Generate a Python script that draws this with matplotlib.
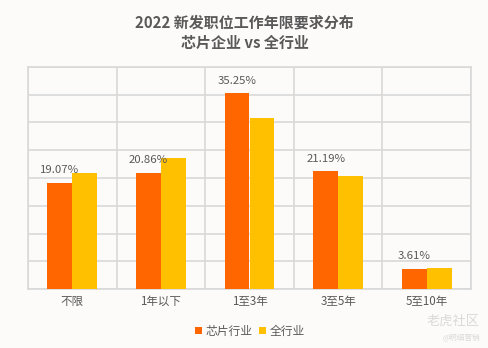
import matplotlib
matplotlib.use('Agg')
import matplotlib.pyplot as plt
import numpy as np

plt.rcParams['font.family'] = ['Noto Sans CJK SC', 'DejaVu Sans']

categories = ['不限', '1年以下', '1至3年', '3至5年', '5至10年']
chip = [19.07, 20.86, 35.25, 21.19, 3.61]
all_industry = [20.9, 23.6, 30.9, 20.4, 3.8]
series_names = ['芯片行业', '全行业']

bg = '#FDFBFA'
grid_c = '#D9D9D9'
text_c = '#595959'

fig = plt.figure(figsize=(4.89, 3.48), dpi=100, facecolor=bg)
ax = fig.add_axes([28/489, 1 - 289/348, (471 - 28)/489, (289 - 67)/348])
ax.set_facecolor(bg)

x = np.arange(len(categories))
w = 0.28
b1 = ax.bar(x - w/2, chip, width=w, color='#FF6600', label=series_names[0], zorder=3)
b2 = ax.bar(x + w/2, all_industry, width=w, color='#FFC000', label=series_names[1], zorder=3)

# value labels only on the chip series
for xi, v in zip(x, chip):
    ax.text(xi - w/2, v + 1.4, f'{v:.2f}%', ha='center', va='bottom',
            fontsize=8.2, color=text_c)

ax.set_xlim(-0.5, len(categories) - 0.5)
ax.set_ylim(0, 40)
ax.set_yticks(np.arange(0, 41, 5))
ax.set_yticklabels([])
ax.set_xticks(np.arange(-0.5, len(categories), 1), minor=False)
ax.set_xticklabels([])
ax.set_xticks(x, minor=True)
ax.set_xticklabels(categories, minor=True, fontsize=8.3, color=text_c)
ax.tick_params(axis='both', which='both', length=0, pad=4)
ax.grid(True, which='major', color=grid_c, linewidth=1.2, zorder=0)
for s in ax.spines.values():
    s.set_color(grid_c)
    s.set_linewidth(1.2)

fig.text(0.5, 1 - 22/348, '2022 新发职位工作年限要求分布', ha='center', va='center',
         fontsize=10.8, fontweight='bold', color=text_c)
fig.text(0.5, 1 - 43/348, '芯片企业 vs 全行业', ha='center', va='center',
         fontsize=10.8, fontweight='bold', color=text_c)

fig.legend(handles=[b1, b2], loc='center', bbox_to_anchor=(250/489, 1 - 331/348),
           ncol=2, frameon=False, fontsize=8.5, handlelength=0.6, handleheight=0.6,
           handletextpad=0.3, columnspacing=0.5, labelcolor=text_c)

fig.text(480/489, 1 - 321/348, '老虎社区', ha='right', va='center',
         fontsize=9.5, color='#DCDAD9')
fig.text(480/489, 1 - 338/348, '@明细营销', ha='right', va='center',
         fontsize=5.5, color='#DCDAD9')

fig.savefig('out.png', dpi=100, facecolor=bg)
